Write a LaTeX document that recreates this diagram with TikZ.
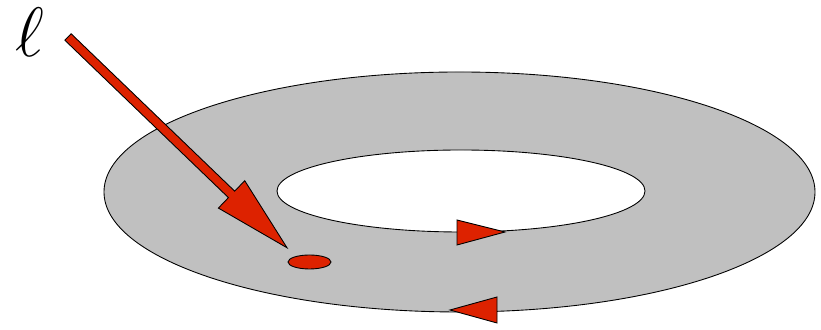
\documentclass[tikz,border=0pt]{standalone}
\usetikzlibrary{shapes.geometric,calc}
\definecolor{ringgray}{HTML}{C0C0C0}
\definecolor{markred}{HTML}{DD2200}

\begin{document}
\begin{tikzpicture}[
  x=0.02cm, y=0.02cm,
  ringfill/.style={fill=ringgray, draw=black, line width=0.5pt, even odd rule},
  redpart/.style={fill=markred, draw=black, line width=0.5pt},
  spotnode/.style={ellipse, redpart, minimum width=0.86cm, minimum height=0.28cm, inner sep=0pt},
  elltext/.style={font=\Huge, inner sep=0pt}
]
\useasboundingbox (0,0) rectangle (821,330);
% annulus
\path[ringfill] (459.5,138) ellipse [x radius=355.5, y radius=120]
                (461,139) ellipse [x radius=184, y radius=41];

% orientation marks
\path[redpart] (457,110) -- (457,85) -- (505,98) -- cycle;
\path[redpart] (497,33) -- (497,7) -- (450,20) -- cycle;

\node[spotnode] (spot) at (309.5,68) {};
\node[elltext] (ell) at (30,298) {\scalebox{1.6}{$\ell$}};

% the incoming arrow
\coordinate (tail) at (68,293);
\coordinate (tip) at (287,82);
\begin{scope}[shift={(tail)}, rotate=-43.9]
  \path[redpart] (0,-4.5) -- (227,-4.5) -- (227,-19) -- (304,0)
                 -- (227,19) -- (227,4.5) -- (0,4.5) -- cycle;
\end{scope}
\end{tikzpicture}
\end{document}
